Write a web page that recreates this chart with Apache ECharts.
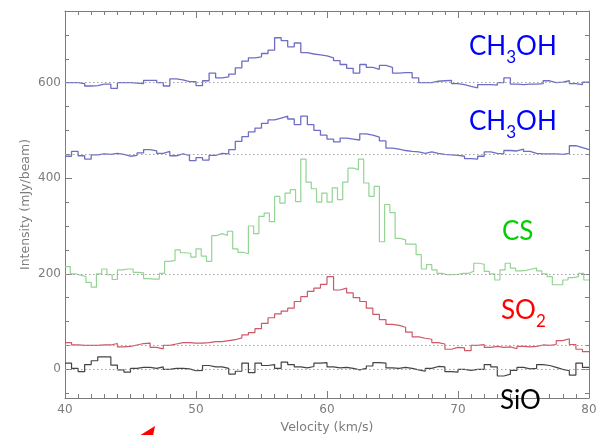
<!DOCTYPE html>
<html>
<head>
<meta charset="utf-8">
<script src="https://cdn.jsdelivr.net/npm/echarts@6/dist/echarts.min.js"></script>
<style>
  html, body { margin: 0; padding: 0; background: #fff; }
  #chart { width: 600px; height: 435px; }
</style>
</head>
<body>
<div id="chart"></div>
<script>
// Spectral channels: velocity grid (km/s) for each line
const V_START = 40;
const V_END = 80;
const CHANNEL_WIDTH = 0.5;      // CH3OH, SO2, SiO
const CS_CHANNEL_WIDTH = 0.4;   // CS

// Intensities (mJy/beam), already offset onto their own baselines
const methanolUpper = [
  600, 600, 598, 593, 594, 597, 597, 588, 600, 600,
  599, 598, 605, 605, 600, 593, 608, 606, 602, 602,
  594, 604, 620, 610, 612, 618, 631, 645, 652, 654,
  661, 668, 694, 688, 675, 683, 663, 660, 658, 656,
  652, 646, 638, 630, 620, 638, 632, 628, 636, 632,
  620, 621, 621, 610, 600, 600, 603, 604, 605, 598,
  596, 592, 589, 596, 596, 595, 600, 610, 597, 596,
  597, 597, 598, 604, 600, 601, 604, 598, 596, 601
];
const methanolLower = [
  446, 456, 447, 440, 449, 451, 450, 452, 450, 446,
  448, 453, 460, 457, 452, 456, 447, 451, 448, 437,
  443, 438, 448, 452, 451, 460, 477, 487, 497, 505,
  515, 522, 526, 530, 524, 512, 530, 512, 500, 490,
  482, 476, 484, 482, 480, 493, 490, 486, 478, 463,
  461, 458, 456, 455, 452, 455, 452, 450, 449, 448,
  446, 441, 440, 446, 455, 452, 451, 458, 457, 461,
  456, 452, 451, 451, 451, 450, 452, 468, 464, 460
];
const csLine = [
  215, 200, 197, 194, 182, 172, 200, 210, 198, 188,
  208, 210, 210, 203, 202, 190, 189, 189, 201, 226,
  228, 250, 244, 243, 235, 252, 237, 226, 280, 284,
  280, 289, 252, 245, 242, 300, 284, 320, 327, 309,
  362, 348, 369, 376, 351, 440, 392, 378, 350, 369,
  350, 380, 355, 392, 421, 418, 440, 390, 362, 383,
  267, 345, 328, 274, 271, 262, 262, 240, 210, 219,
  208, 201, 198, 198, 199, 201, 201, 205, 222, 220,
  205, 200, 187, 208, 222, 212, 206, 207, 210, 212,
  206, 200, 194, 177, 177, 187, 192, 194, 201, 187
];
const so2Line = [
  56, 51, 50, 50, 50, 51, 51, 54, 47, 48,
  51, 54, 55, 46, 43, 50, 53, 56, 56, 55,
  55, 56, 58, 58, 60, 62, 66, 72, 77, 85,
  96, 108, 116, 122, 128, 142, 152, 163, 170, 178,
  194, 166, 170, 160, 150, 142, 128, 115, 104, 94,
  92, 88, 78, 68, 65, 63, 56, 53, 42, 46,
  45, 39, 50, 52, 46, 48, 46, 47, 43, 48,
  47, 48, 51, 50, 52, 60, 64, 52, 42, 37
];
const sioLine = [
  13, 2, -5, 10, 18, 26, 26, 9, -1, -6,
  2, 4, 4, 2, 5, 0, 2, 2, 1, -3,
  -2, 8, 5, 5, 2, -10, -4, 13, -7, 13,
  8, 10, 2, 15, 10, 5, 3, 6, 13, 14,
  5, 3, 4, 2, -1, 2, 7, 14, 13, 3,
  2, 4, 2, -1, -4, 2, 6, 5, -5, -6,
  0, -2, 0, 0, 10, 5, -14, -10, -2, 4,
  1, 2, 10, 8, 4, 0, -3, -12, 13, 4
];

// Zero levels of each offset spectrum
const baselines = [600, 450, 200, 50, 0];

// Axis ticks
const Y_MIN = -60;
const Y_MAX = 750;
const yMajorTicks = [0, 200, 400, 600];
const yMinorTicks = [-50, 0, 50, 100, 150, 200, 250, 300, 350, 400, 450, 500, 550, 600, 650, 700, 750];

// Line labels (molecule names) with subscripts
const labelParts = [
  [['CH', false], ['3', true], ['OH', false]],
  [['CH', false], ['3', true], ['OH', false]],
  [['CS', false]],
  [['SO', false], ['2', true]],
  [['SiO', false]]
];
const labelColors = ['#0000ff', '#0000ff', '#00d000', '#ff0000', '#000000'];

const axisGray = '#7c7c7c';
const axisFont = 'DejaVu Sans';
const labelFont = 'Lato, "Open Sans", sans-serif';

// Build [velocity, intensity] pairs for a histogram-style spectrum
function stepData(width, values) {
  const pts = values.map((v, i) => [V_START + width * i, v]);
  pts.push([V_END, values[values.length - 1]]);
  return pts;
}

function spectrum(name, width, values, color, baseline, lineWidth) {
  return {
    name: name,
    type: 'line',
    step: 'end',
    data: stepData(width, values),
    xAxisIndex: 0,
    yAxisIndex: 0,
    symbol: 'none',
    silent: true,
    lineStyle: { color: color, width: lineWidth },
    markLine: {
      silent: true,
      symbol: 'none',
      label: { show: false },
      lineStyle: { color: '#a0a0a0', type: [1.5, 2.5], width: 1 },
      data: [{ yAxis: baseline }]
    }
  };
}

function xAxisCommon(position, showLabels) {
  const ax = {
    type: 'value',
    position: position,
    min: V_START,
    max: V_END,
    interval: 10,
    axisLine: { show: true, onZero: false, lineStyle: { color: axisGray, width: 1 } },
    axisTick: { show: true, inside: true, length: 7, lineStyle: { color: axisGray } },
    minorTick: { show: true, splitNumber: 10, length: 4, lineStyle: { color: axisGray } },
    splitLine: { show: false },
    minorSplitLine: { show: false },
    axisLabel: { show: showLabels, color: axisGray, fontFamily: axisFont, fontSize: 12, margin: 6 }
  };
  if (showLabels) {
    ax.name = 'Velocity (km/s)';
    ax.nameLocation = 'middle';
    ax.nameGap = 23;
    ax.nameTextStyle = { color: axisGray, fontFamily: axisFont, fontSize: 12.5 };
  }
  return ax;
}

function yAxisCommon(position, ticks, tickLen, showLine, showLabels) {
  const ax = {
    type: 'value',
    position: position,
    min: Y_MIN,
    max: Y_MAX,
    axisLine: { show: showLine, onZero: false, lineStyle: { color: axisGray, width: 1 } },
    axisTick: { show: true, inside: true, length: tickLen, customValues: ticks, lineStyle: { color: axisGray } },
    splitLine: { show: false },
    axisLabel: showLabels
      ? { show: true, customValues: ticks, color: axisGray, fontFamily: axisFont, fontSize: 12, margin: 4 }
      : { show: false }
  };
  if (showLabels) {
    ax.name = 'Intensity (mJy/beam)';
    ax.nameLocation = 'middle';
    ax.nameRotate = 90;
    ax.nameGap = 33;
    ax.nameMoveOverlap = false;
    ax.nameTextStyle = { color: axisGray, fontFamily: axisFont, fontSize: 12.5 };
  }
  return ax;
}

// Molecule name drawn as consecutive runs so subscripts sit below the baseline
const MAIN_SIZE = 26;
const SUB_SIZE = 17;
const measureCtx = document.createElement('canvas').getContext('2d');
function formulaElements(parts, left, capMid, color) {
  let x = left;
  const els = [];
  parts.forEach(function (p) {
    const txt = p[0], sub = p[1];
    const size = sub ? SUB_SIZE : MAIN_SIZE;
    const font = size + 'px ' + labelFont;
    measureCtx.font = font;
    els.push({
      type: 'text',
      x: x,
      y: capMid + (sub ? 11 : 0),
      silent: true,
      z: 100,
      style: {
        text: txt, fill: color, font: font,
        align: 'left', textAlign: 'left',
        verticalAlign: 'middle', textVerticalAlign: 'middle'
      }
    });
    x += measureCtx.measureText(txt).width;
  });
  return els;
}

const labelAnchors = [[469, 47], [469, 122], [502, 232], [501, 311], [500, 401]];
let graphics = [];
labelParts.forEach(function (parts, i) {
  graphics = graphics.concat(formulaElements(parts, labelAnchors[i][0], labelAnchors[i][1], labelColors[i]));
});
// red pointer tip at the lower edge
graphics.push({
  type: 'polygon',
  silent: true,
  shape: { points: [[139, 436], [155, 426], [153, 436]] },
  style: { fill: '#ff0000' }
});

const chart = echarts.init(document.getElementById('chart'), null, { renderer: 'canvas' });
chart.setOption({
  animation: false,
  backgroundColor: '#ffffff',
  grid: { left: 65, right: 11, top: 11, bottom: 37, containLabel: false, outerBoundsMode: 'none' },
  xAxis: [xAxisCommon('bottom', true), xAxisCommon('top', false)],
  yAxis: [
    yAxisCommon('left', yMajorTicks, 7, true, true),
    yAxisCommon('left', yMinorTicks, 4, false, false),
    yAxisCommon('right', yMajorTicks, 7, true, false),
    yAxisCommon('right', yMinorTicks, 4, false, false)
  ],
  series: [
    spectrum('CH3OH (upper)', CHANNEL_WIDTH, methanolUpper, '#6e6ec6', baselines[0], 1.3),
    spectrum('CH3OH (lower)', CHANNEL_WIDTH, methanolLower, '#6e6ec6', baselines[1], 1.3),
    spectrum('CS', CS_CHANNEL_WIDTH, csLine, '#94d494', baselines[2], 1.2),
    spectrum('SO2', CHANNEL_WIDTH, so2Line, '#cc5868', baselines[3], 1.2),
    spectrum('SiO', CHANNEL_WIDTH, sioLine, '#444444', baselines[4], 1.2)
  ],
  graphic: graphics
});
</script>
</body>
</html>
